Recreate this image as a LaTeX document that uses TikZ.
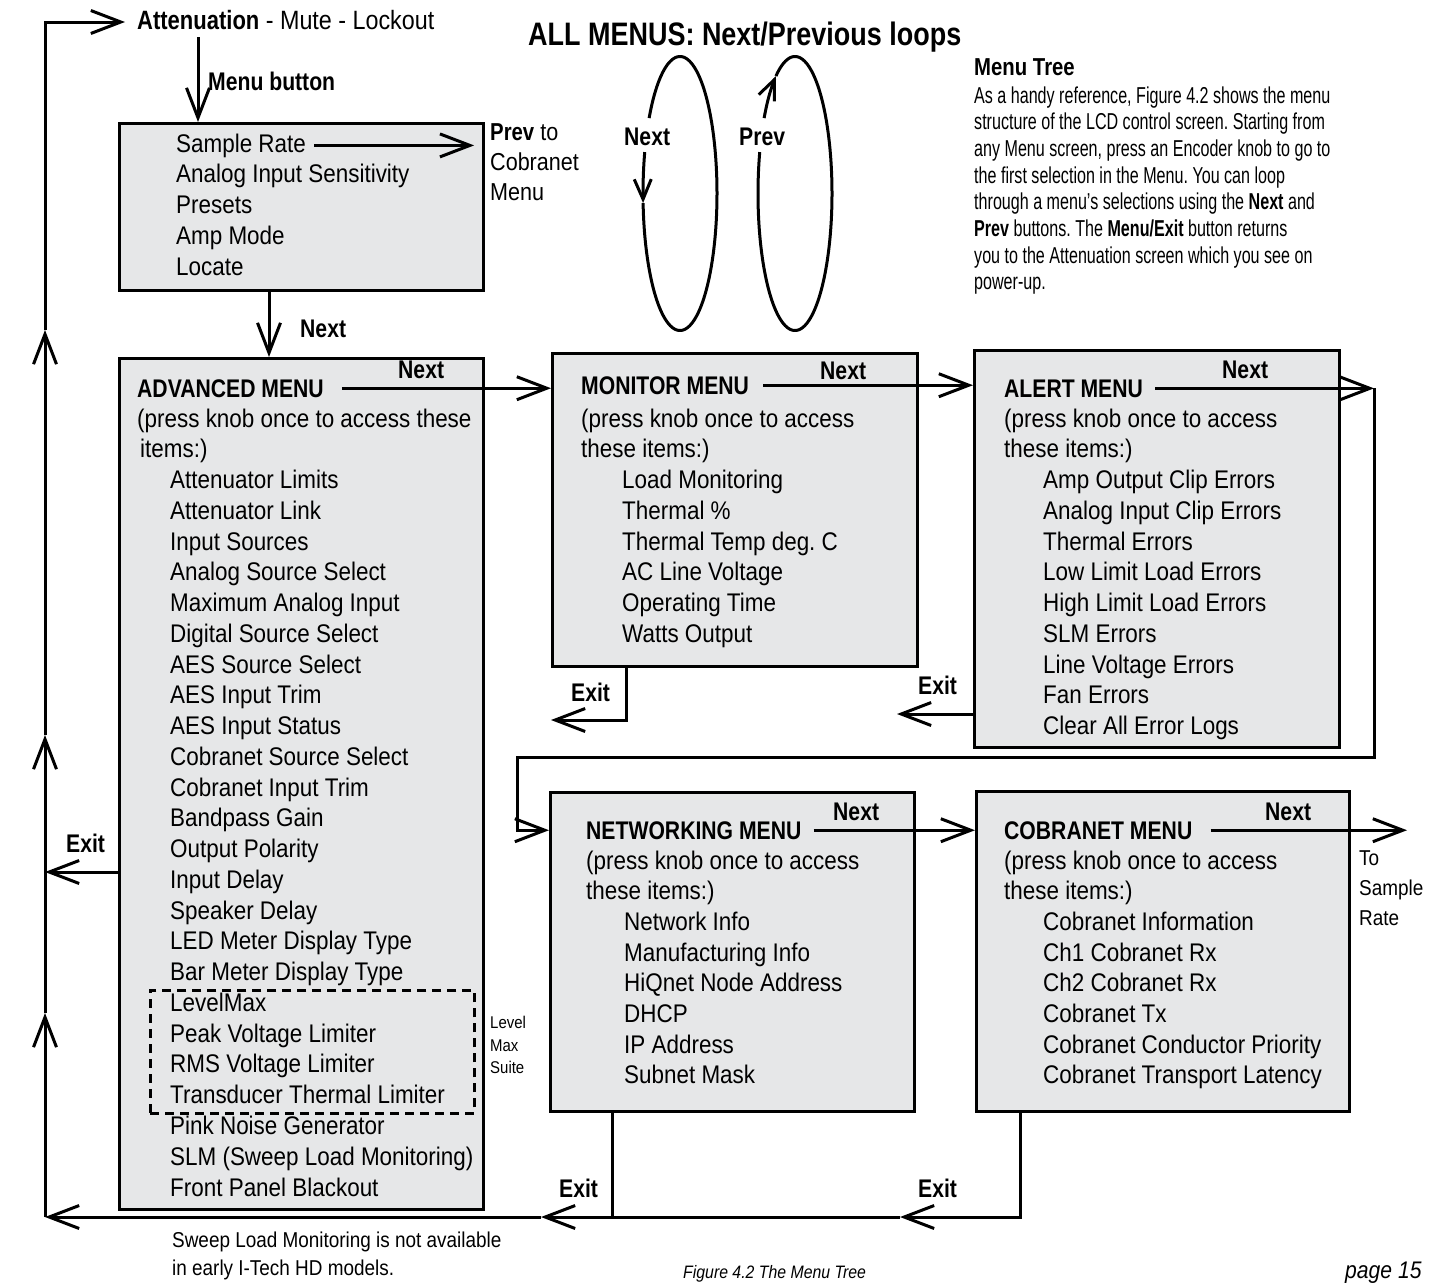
\documentclass[tikz,border=0pt]{standalone}
\usepackage{fontspec}
\setmainfont{Liberation Sans}[FakeStretch=0.88]
\newfontfamily\bcond{Liberation Sans}[FakeStretch=0.83]
\newfontfamily\pcond{Liberation Sans}[FakeStretch=0.70]
\usetikzlibrary{arrows.meta}
\definecolor{boxgray}{RGB}{230,231,232}
\newcommand\fsz[2]{\fontsize{#1}{#2}\selectfont}
\frenchspacing
\begin{document}
\frenchspacing
\begin{tikzpicture}[x=1pt,y=-1pt,
  box/.style={draw, line width=3pt, fill=boxgray, inner sep=0pt, anchor=north west},
  txt/.style={inner sep=0pt, anchor=base west, font=\fsz{25.5}{30}},
  hdr/.style={inner sep=0pt, anchor=base west, font=\bcond\bfseries\fsz{25.5}{30}},
  conn/.style={line width=3pt},
  barb/.style={conn, -{Straight Barb[length=30pt,width=23pt]}},
  sbarb/.style={conn, -{Straight Barb[length=20pt,width=17pt]}},
]
\path[fill=white, use as bounding box] (0,0) rectangle (1429,1283);

% ---------- boxes ----------
\node[box, minimum width=364pt, minimum height=167pt] (sr) at (118,122) {};
\node[box, minimum width=364pt, minimum height=851pt] (adv) at (118,357) {};
\node[box, minimum width=365pt, minimum height=313pt] (mon) at (551,352) {};
\node[box, minimum width=365pt, minimum height=397pt] (alert) at (973,349) {};
\node[box, minimum width=364pt, minimum height=319pt] (net) at (549,791) {};
\node[box, minimum width=373pt, minimum height=320pt] (cob) at (975,790) {};
\node[draw, line width=2.6pt, dash pattern=on 9pt off 6pt, inner sep=0pt, anchor=north west,
      minimum width=324pt, minimum height=123pt] (lmbox) at (149,989) {};

% ---------- top texts ----------
\node[inner sep=0pt, anchor=base west, font=\fsz{26.5}{30}] (attn) at (137,29)
  {{\bcond\bfseries Attenuation} - Mute - Lockout};
\node[hdr, font=\bcond\bfseries\fsz{25.5}{30}] (mb) at (208,90) {Menu button};
\node[hdr, font=\bcond\bfseries\fsz{32.5}{38}] (title) at (528,45) {ALL MENUS: Next/Previous loops};

\node[hdr, font=\bcond\bfseries\fsz{24.5}{28}] (mth) at (974,75) {Menu Tree};
\foreach \t [count=\i] in {
  {As a handy reference, Figure 4.2 shows the menu},
  {structure of the LCD control screen. Starting from},
  {any Menu screen, press an Encoder knob to go to},
  {the first selection in the Menu. You can loop},
  {through a menu’s selections using the \textbf{Next} and},
  {\textbf{Prev} buttons. The \textbf{Menu/Exit} button returns},
  {you to the Attenuation screen which you see on},
  {power-up.}}
  \node[inner sep=0pt, anchor=base west, font=\pcond\fsz{23}{27}] (mt\i) at (974,{103+(\i-1)*26.67}) {\t};

% ---------- sample rate box ----------
\foreach \t [count=\i] in {Sample Rate, Analog Input Sensitivity, Presets, Amp Mode, Locate}
  \node[txt] (sr\i) at (176,{152+(\i-1)*30.8}) {\t};
\node[txt, font=\fsz{24.5}{30}] (prev1) at (490,140) {{\bcond\bfseries Prev} to};
\node[txt, font=\fsz{24.5}{30}] (prev2) at (490,170) {Cobranet};
\node[txt, font=\fsz{24.5}{30}] (prev3) at (490,200) {Menu};

% ---------- advanced ----------
\node[hdr] (advh) at (137,397) {ADVANCED MENU};
\node[txt] (advb1) at (137,427) {(press knob once to access these};
\node[txt] (advb2) at (140,457.8) {items:)};
\foreach \t [count=\i] in {Attenuator Limits, Attenuator Link, Input Sources, Analog Source Select,
  Maximum Analog Input, Digital Source Select, AES Source Select, AES Input Trim, AES Input Status,
  Cobranet Source Select, Cobranet Input Trim, Bandpass Gain, Output Polarity, Input Delay,
  Speaker Delay, LED Meter Display Type, Bar Meter Display Type, LevelMax, Peak Voltage Limiter,
  RMS Voltage Limiter, Transducer Thermal Limiter, Pink Noise Generator,
  SLM (Sweep Load Monitoring), Front Panel Blackout}
  \node[txt] (advi\i) at (170,{427+(\i+1)*30.76}) {\t};
\node[txt, font=\fsz{17}{22}] (lm1) at (490,1028) {Level};
\node[txt, font=\fsz{17}{22}] (lm2) at (490,1051) {Max};
\node[txt, font=\fsz{17}{22}] (lm3) at (490,1073) {Suite};

% ---------- monitor ----------
\node[hdr] (monh) at (581,394) {MONITOR MENU};
\node[txt] (monb1) at (581,427) {(press knob once to access};
\node[txt] (monb2) at (581,457.75) {these items:)};
\foreach \t [count=\i] in {Load Monitoring, Thermal \%, Thermal Temp deg. C, AC Line Voltage,
  Operating Time, Watts Output}
  \node[txt] (moni\i) at (622,{427+(\i+1)*30.75}) {\t};

% ---------- alert ----------
\node[hdr] (alerth) at (1004,397) {ALERT MENU};
\node[txt] (alb1) at (1004,427) {(press knob once to access};
\node[txt] (alb2) at (1004,457.75) {these items:)};
\foreach \t [count=\i] in {Amp Output Clip Errors, Analog Input Clip Errors, Thermal Errors,
  Low Limit Load Errors, High Limit Load Errors, SLM Errors, Line Voltage Errors, Fan Errors,
  Clear All Error Logs}
  \node[txt] (ali\i) at (1043,{427+(\i+1)*30.75}) {\t};

% ---------- networking ----------
\node[hdr] (neth) at (586,839) {NETWORKING MENU};
\node[txt] (netb1) at (586,869) {(press knob once to access};
\node[txt] (netb2) at (586,899.7) {these items:)};
\foreach \t [count=\i] in {Network Info, Manufacturing Info, HiQnet Node Address, DHCP,
  IP Address, Subnet Mask}
  \node[txt] (neti\i) at (624,{869+(\i+1)*30.7}) {\t};

% ---------- cobranet ----------
\node[hdr] (cobh) at (1004,839) {COBRANET MENU};
\node[txt] (cobb1) at (1004,869) {(press knob once to access};
\node[txt] (cobb2) at (1004,899.7) {these items:)};
\foreach \t [count=\i] in {Cobranet Information, Ch1 Cobranet Rx, Ch2 Cobranet Rx, Cobranet Tx,
  Cobranet Conductor Priority, Cobranet Transport Latency}
  \node[txt] (cobi\i) at (1043,{869+(\i+1)*30.7}) {\t};
\node[txt, font=\fsz{21.5}{30}] (to1) at (1359,865) {To};
\node[txt, font=\fsz{21.5}{30}] (to2) at (1359,895) {Sample};
\node[txt, font=\fsz{21.5}{30}] (to3) at (1359,925) {Rate};

% ---------- labels ----------
\node[hdr] (nx0) at (300,337) {Next};
\node[hdr] (nx1) at (398,378) {Next};
\node[hdr] (nx2) at (820,379) {Next};
\node[hdr] (nx3) at (1222,378) {Next};
\node[hdr] (nx4) at (833,820) {Next};
\node[hdr] (nx5) at (1265,820) {Next};
\node[hdr] (ex1) at (66,852) {Exit};
\node[hdr] (ex2) at (571,701) {Exit};
\node[hdr] (ex3) at (918,694) {Exit};
\node[hdr] (ex4) at (559,1197) {Exit};
\node[hdr] (ex5) at (918,1197) {Exit};
\node[hdr] (lpn) at (624,145) {Next};
\node[hdr] (lpp) at (739,145) {Prev};

% ---------- bottom texts ----------
\node[txt, font=\fsz{21.5}{28}] (note1) at (172,1247) {Sweep Load Monitoring is not available};
\node[txt, font=\fsz{21.5}{28}] (note2) at (172,1275) {in early I-Tech HD models.};
\node[txt, font=\itshape\fsz{18}{22}] (fig) at (683,1278) {Figure 4.2 The Menu Tree};
\node[txt, font=\itshape\fsz{24}{28}] (pg) at (1345,1278) {page 15};

% ---------- coordinates ----------
\coordinate (bl) at (45,1217);
\coordinate (u3) at (45,1013);
\coordinate (u2) at (45,735);
\coordinate (u1) at (45,330);
\coordinate (tl) at (45,22);
\coordinate (attnin) at (125,22);
\coordinate (mbt) at (198,37);
\coordinate (nxc) at (269,300);
\coordinate (rcx) at (1374,757);
\coordinate (lx) at (517,757);
\coordinate (tosr) at (1407,830);
\coordinate (aexy) at (80,872);
\coordinate (mx) at (626,720);
\coordinate (ax) at (897,714);
\coordinate (nxb) at (612,1217);
\coordinate (cxb) at (1020,1217);
\coordinate (a900) at (900,1217);
\coordinate (a541) at (541,1217);

% ---------- connectors ----------
\draw[barb] (bl) -- (u3);
\draw[barb] (u3) -- (u2);
\draw[barb] (u2) -- (u1);
\draw[barb] (u1) -- (tl) -- (attnin);
\draw[barb] (mbt) -- (mbt |- sr.north);
\draw[barb] ([xshift=8pt]sr1.east) -- ++(160,0);
\draw[barb] (nxc |- sr.south) -- (nxc |- adv.north);
\draw[barb] ([xshift=18pt]advh.east) -- (advh.east -| mon.west);
\draw[barb] ([xshift=14pt]monh.east) -- (monh.east -| alert.west);
\draw[barb] ([xshift=12pt]alerth.east) -- (alerth.east -| rcx);
\draw[barb] (alerth.east -| rcx) -- (rcx) -- (lx) -- (lx |- neth.east) -- (neth.east -| net.west);
\draw[barb] ([xshift=12pt]neth.east) -- (neth.east -| cob.west);
\draw[barb] ([xshift=18pt]cobh.east) -- (cobh.east -| tosr);
\draw[barb] (adv.west |- aexy) -- (aexy -| bl);
\draw[barb] (mx |- mon.south) -- (mx) -- (mx -| mon.west);
\draw[barb] (alert.west |- ax) -- (ax);
\draw[conn] (nxb |- net.south) -- (nxb);
\draw[barb] (cxb |- cob.south) -- (cxb) -- (a900);
\draw[barb] (a900) -- (a541);
\draw[barb] (a541) -- (bl);

% ---------- loops ----------
\draw[sbarb] plot[domain=197.6:176, samples=12] ({680+37*cos(\x)},{193.5+137*sin(\x)});
\draw[conn] plot[domain=176:-146.6, samples=160] ({680+37*cos(\x)},{193.5+137*sin(\x)});
\draw[sbarb] plot[domain=213.4:239, samples=12] ({795+37*cos(\x)},{193.5+137*sin(\x)});
\draw[conn] plot[domain=239:557.6, samples=160] ({795+37*cos(\x)},{193.5+137*sin(\x)});
\end{tikzpicture}
\end{document}
